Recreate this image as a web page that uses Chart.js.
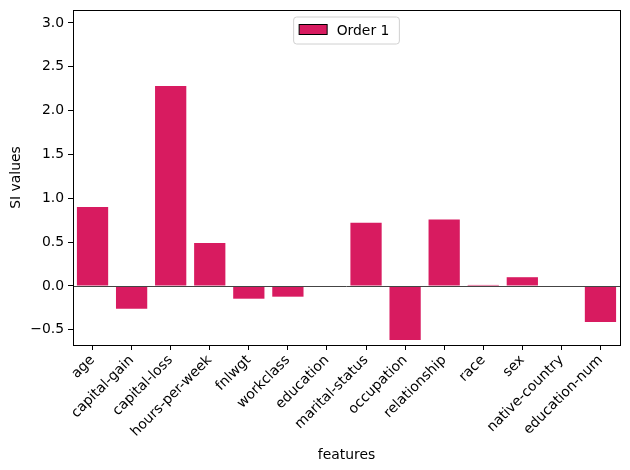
<!DOCTYPE html>
<html>
<head>
<meta charset="utf-8">
<script src="https://cdn.jsdelivr.net/npm/chart.js@4"></script>
<style>
html,body{margin:0;padding:0;background:#fff;}
#wrap{width:630px;height:470px;}
</style>
</head>
<body>
<div id="wrap"><canvas id="c" width="630" height="470"></canvas></div>
<script>
const categories = ["age","capital-gain","capital-loss","hours-per-week","fnlwgt","workclass","education","marital-status","occupation","relationship","race","sex","native-country","education-num"];
const seriesLabel = "Order 1";
const values = [0.90, -0.26, 2.28, 0.49, -0.145, -0.122, 0.0, 0.72, -0.616, 0.757, 0.012, 0.10, 0.0, -0.41];
const yTicks = [-0.5, 0.0, 0.5, 1.0, 1.5, 2.0, 2.5, 3.0];
const yMin = -0.673, yMax = 3.147;

const FONT = "'DejaVu Sans', sans-serif";
const FS = 13.9;
const BAR = "#d81b60";

const framePlugin = {
  id: 'frame',
  afterDatasetsDraw(chart) {
    const {ctx, chartArea: a, scales: {y}} = chart;
    ctx.save();
    const y0 = Math.round(y.getPixelForValue(0)) + 0.5;
    ctx.strokeStyle = '#444';
    ctx.lineWidth = 1;
    ctx.beginPath();
    ctx.moveTo(a.left, y0); ctx.lineTo(a.right, y0);
    ctx.stroke();
    ctx.strokeStyle = '#000';
    ctx.lineWidth = 1;
    ctx.strokeRect(Math.round(a.left)+0.5, Math.round(a.top)+0.5, Math.round(a.right-a.left), Math.round(a.bottom-a.top));
    const label = chart.data.datasets[0].label;
    ctx.font = FS + "px " + FONT;
    const tw = ctx.measureText(label).width;
    const w = 8 + 28 + 9 + tw + 8;
    const h = 27;
    const cx = (a.left + a.right) / 2;
    const lx = cx - w/2, ly = a.top + 7;
    const r = 3;
    ctx.beginPath();
    ctx.moveTo(lx+r, ly);
    ctx.lineTo(lx+w-r, ly); ctx.quadraticCurveTo(lx+w, ly, lx+w, ly+r);
    ctx.lineTo(lx+w, ly+h-r); ctx.quadraticCurveTo(lx+w, ly+h, lx+w-r, ly+h);
    ctx.lineTo(lx+r, ly+h); ctx.quadraticCurveTo(lx, ly+h, lx, ly+h-r);
    ctx.lineTo(lx, ly+r); ctx.quadraticCurveTo(lx, ly, lx+r, ly);
    ctx.closePath();
    ctx.fillStyle = 'rgba(255,255,255,0.8)';
    ctx.fill();
    ctx.strokeStyle = '#d0d0d0';
    ctx.stroke();
    ctx.fillStyle = BAR;
    ctx.fillRect(lx+5.5, ly+7.5, 28, 10);
    ctx.strokeStyle = '#000';
    ctx.strokeRect(lx+5.5, ly+7.5, 28, 10);
    ctx.fillStyle = '#000';
    ctx.textBaseline = 'middle';
    ctx.textAlign = 'left';
    ctx.fillText(label, lx+43, ly+h/2+0.5);
    ctx.restore();
  }
};

new Chart(document.getElementById('c'), {
  type: 'bar',
  data: {
    labels: categories,
    datasets: [{
      label: seriesLabel,
      data: values,
      backgroundColor: BAR,
      borderWidth: 0,
      categoryPercentage: 0.8,
      barPercentage: 1.0
    }]
  },
  options: {
    responsive: false,
    animation: false,
    devicePixelRatio: 1,
    layout: { padding: { top: 10, right: 10, left: 0, bottom: 0 } },
    plugins: { legend: { display: false }, tooltip: { enabled: false } },
    scales: {
      x: {
        offset: true,
        grid: { offset: false, drawOnChartArea: false, tickLength: 5, tickColor: '#000', tickWidth: 1 },
        border: { display: true, color: '#000', width: 1 },
        ticks: { color: '#000', font: { family: FONT, size: FS }, minRotation: 45, maxRotation: 45, autoSkip: false, padding: 2 },
        title: { display: true, text: 'features', color: '#000', font: { family: FONT, size: FS }, padding: { top: 4, bottom: 6 } },
        afterFit(s) { s.height = 125; s.paddingLeft = 0; s.paddingRight = 0; }
      },
      y: {
        min: yMin, max: yMax,
        afterBuildTicks(s) { s.ticks = yTicks.map(v => ({ value: v })); },
        grid: { drawOnChartArea: false, tickLength: 5, tickColor: '#000', tickWidth: 1 },
        border: { display: true, color: '#000', width: 1 },
        ticks: {
          color: '#000', font: { family: FONT, size: FS }, padding: 4,
          callback: v => v.toFixed(1).replace('-', '\u2212')
        },
        title: { display: true, text: 'SI values', color: '#000', font: { family: FONT, size: FS }, padding: { top: 8, bottom: 0 } },
        afterFit(s) { s.width = 73; s.paddingTop = 0; s.paddingBottom = 0; }
      }
    }
  },
  plugins: [framePlugin]
});
</script>
</body>
</html>
